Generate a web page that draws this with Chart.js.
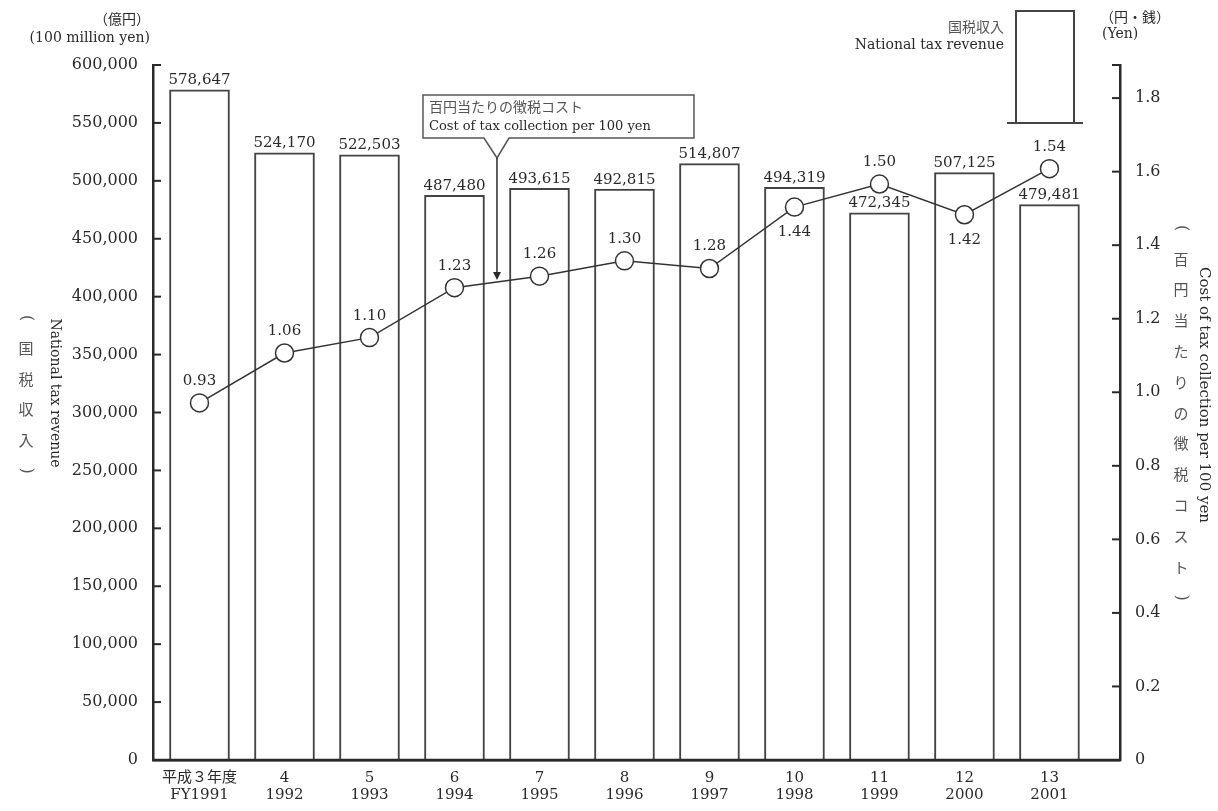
<!DOCTYPE html>
<html>
<head>
<meta charset="utf-8">
<script src="https://cdn.jsdelivr.net/npm/chart.js@4.4.1/dist/chart.umd.min.js"></script>
<style>
  html, body { margin: 0; padding: 0; background: #fff; }
  #wrap { width: 1218px; height: 811px; position: relative; }
</style>
</head>
<body>
<div id="wrap"><canvas id="chart"></canvas></div>
<script>
// fiscal years (two lines each)
const yearLabels = [
    ['平成３年度', 'FY1991'], ['4', '1992'], ['5', '1993'], ['6', '1994'],
    ['7', '1995'], ['8', '1996'], ['9', '1997'], ['10', '1998'],
    ['11', '1999'], ['12', '2000'], ['13', '2001']
];

// national tax revenue (100 million yen)
const taxRevenue = [578647, 524170, 522503, 487480, 493615, 492815, 514807, 494319, 472345, 507125, 479481];

// cost of tax collection per 100 yen (yen)
const costPer100 = [0.93, 1.06, 1.10, 1.23, 1.26, 1.30, 1.28, 1.44, 1.50, 1.42, 1.54];

// axis ticks
const revenueTicks = [0, 50000, 100000, 150000, 200000, 250000, 300000, 350000, 400000, 450000, 500000, 550000, 600000];
const costTicks = [0, 0.2, 0.4, 0.6, 0.8, 1.0, 1.2, 1.4, 1.6, 1.8];

// texts
const leftUnit = ['（億円）', '(100 million yen)'];
const rightUnit = ['（円・銭）', '(Yen)'];
const leftTitleJa = ['国', '税', '収', '入'];
const leftTitleEn = 'National tax revenue';
const rightTitleJa = ['百', '円', '当', 'た', 'り', 'の', '徴', '税', 'コ', 'ス', 'ト'];
const rightTitleEn = 'Cost of tax collection per 100 yen';
const legendText = ['国税収入', 'National tax revenue'];
const calloutText = ['百円当たりの徴税コスト', 'Cost of tax collection per 100 yen'];

const FONT = "'DejaVu Serif', 'Noto Sans CJK JP', serif";
const JA_FONT = "'Noto Sans CJK JP', sans-serif";
const INK = '#2a2a2a';
const SOFT = '#555';

// line labels that sit under the point
const labelBelow = [7, 9];

function drawLine(ctx, x1, y1, x2, y2) {
    ctx.beginPath();
    ctx.moveTo(x1, y1);
    ctx.lineTo(x2, y2);
    ctx.stroke();
}

// vertical japanese title with rotated brackets
function drawVerticalJa(ctx, chars, x, top, step) {
    ctx.font = '15px ' + JA_FONT;
    ctx.fillStyle = SOFT;
    ctx.textAlign = 'center';
    ctx.textBaseline = 'middle';
    const all = ['(', ...chars, ')'];
    all.forEach((c, i) => {
        const cy = top + i * step;
        if (c === '(' || c === ')') {
            ctx.save();
            ctx.translate(x, cy);
            ctx.rotate(Math.PI / 2);
            ctx.font = '16px ' + FONT;
            ctx.fillText(c, 0, 0);
            ctx.restore();
        } else {
            ctx.fillText(c, x, cy);
        }
    });
}

function drawRotated(ctx, text, x, cy, size) {
    ctx.save();
    ctx.translate(x, cy);
    ctx.rotate(Math.PI / 2);
    ctx.font = size + 'px ' + FONT;
    ctx.fillStyle = INK;
    ctx.textAlign = 'center';
    ctx.textBaseline = 'middle';
    ctx.fillText(text, 0, 0);
    ctx.restore();
}

const extrasPlugin = {
    id: 'extras',
    afterDatasetsDraw(chart) {
        const ctx = chart.ctx;
        const area = chart.chartArea;
        ctx.save();

        // bottom axis line back over the bar feet
        ctx.strokeStyle = INK;
        ctx.lineWidth = 2.5;
        drawLine(ctx, area.left, area.bottom, area.right, area.bottom);

        ctx.fillStyle = INK;
        ctx.textAlign = 'center';

        // bar values
        ctx.font = '15px ' + FONT;
        ctx.textBaseline = 'bottom';
        chart.getDatasetMeta(1).data.forEach((bar, i) => {
            ctx.fillText(taxRevenue[i].toLocaleString('en-US'), bar.x, bar.y - 2);
        });

        // line values
        ctx.textBaseline = 'middle';
        chart.getDatasetMeta(0).data.forEach((pt, i) => {
            const dy = labelBelow.includes(i) ? 25 : -22;
            ctx.fillText(costPer100[i].toFixed(2), pt.x, pt.y + dy);
        });
        ctx.restore();
    },
    afterDraw(chart) {
        const ctx = chart.ctx;
        const area = chart.chartArea;
        const xs = chart.scales.x, ys = chart.scales.y, ys2 = chart.scales.y2, yl = chart.scales.yLine;
        ctx.save();

        // inward tick marks
        ctx.strokeStyle = INK;
        ctx.lineWidth = 2;
        revenueTicks.forEach(v => {
            const py = ys.getPixelForValue(v);
            drawLine(ctx, area.left, py, area.left + 8, py);
        });
        costTicks.concat([ys2.max]).forEach(v => {
            const py = ys2.getPixelForValue(v);
            drawLine(ctx, area.right, py, area.right - 8, py);
        });

        // unit labels
        ctx.fillStyle = INK;
        ctx.font = '14px ' + FONT;
        ctx.textAlign = 'right';
        ctx.textBaseline = 'middle';
        ctx.fillText(leftUnit[0], 150, 20);
        ctx.fillText(leftUnit[1], 150, 38);
        ctx.textAlign = 'left';
        ctx.fillText(rightUnit[0], 1100, 18);
        ctx.fillText(rightUnit[1], 1102, 34);

        // axis titles
        drawVerticalJa(ctx, leftTitleJa, 26, 318, 30.5);
        drawRotated(ctx, leftTitleEn, 55, 393, 14);
        drawVerticalJa(ctx, rightTitleJa, 1181, 228, 30.8);
        drawRotated(ctx, rightTitleEn, 1204, 395, 15);

        // legend sample
        ctx.strokeStyle = '#444';
        ctx.lineWidth = 2;
        ctx.fillStyle = '#fff';
        ctx.fillRect(1016, 11, 58, 112);
        ctx.strokeRect(1016, 11, 58, 112);
        drawLine(ctx, 1007, 123, 1083, 123);
        ctx.textAlign = 'right';
        ctx.font = '14px ' + JA_FONT;
        ctx.fillStyle = SOFT;
        ctx.fillText(legendText[0], 1004, 27);
        ctx.font = '14px ' + FONT;
        ctx.fillStyle = INK;
        ctx.fillText(legendText[1], 1004, 45);

        // callout with arrow between 1994 and 1995
        const ax = xs.getPixelForValue(3.5);
        const tipY = yl.getPixelForValue((costPer100[3] + costPer100[4]) / 2);
        const bl = ax - 74, br = ax + 197, bt = 95, bb = 138, apex = 158;
        ctx.beginPath();
        ctx.moveTo(bl, bt);
        ctx.lineTo(br, bt);
        ctx.lineTo(br, bb);
        ctx.lineTo(ax + 12, bb);
        ctx.lineTo(ax, apex);
        ctx.lineTo(ax - 13, bb);
        ctx.lineTo(bl, bb);
        ctx.closePath();
        ctx.fillStyle = '#fff';
        ctx.fill();
        ctx.strokeStyle = SOFT;
        ctx.lineWidth = 1.5;
        ctx.stroke();
        ctx.strokeStyle = INK;
        drawLine(ctx, ax, apex, ax, tipY - 8);
        ctx.beginPath();
        ctx.moveTo(ax - 4, tipY - 10);
        ctx.lineTo(ax + 4, tipY - 10);
        ctx.lineTo(ax, tipY - 2);
        ctx.closePath();
        ctx.fillStyle = INK;
        ctx.fill();

        ctx.textAlign = 'left';
        ctx.font = '14px ' + JA_FONT;
        ctx.fillStyle = SOFT;
        ctx.fillText(calloutText[0], bl + 6, 107);
        ctx.font = '13px ' + FONT;
        ctx.fillStyle = INK;
        ctx.fillText(calloutText[1], bl + 6, 127);

        ctx.restore();
    }
};

const ctx = document.getElementById('chart');
new Chart(ctx, {
    type: 'bar',
    data: {
        datasets: [{
            type: 'line',
            label: calloutText[1],
            data: costPer100.map((v, i) => ({ x: i, y: v })),
            // the source plots the line with 1.8 near the top of the frame
            yAxisID: 'yLine',
            borderColor: '#333',
            borderWidth: 1.5,
            pointRadius: 9,
            pointBorderWidth: 1.5,
            pointBackgroundColor: '#fff',
            pointBorderColor: '#333',
            order: 0
        }, {
            type: 'bar',
            label: legendText[1],
            data: taxRevenue.map((v, i) => ({ x: i, y: v })),
            yAxisID: 'y',
            backgroundColor: '#fff',
            borderColor: '#444',
            borderWidth: 2,
            barThickness: 60,
            order: 1
        }]
    },
    options: {
        responsive: true,
        maintainAspectRatio: false,
        animation: false,
        font: { family: FONT },
        layout: { padding: { top: 65, left: 0, right: 0, bottom: 0 } },
        plugins: {
            legend: { display: false },
            tooltip: { enabled: false }
        },
        scales: {
            x: {
                type: 'linear',
                offset: false,
                min: -0.547,
                max: 10.83,
                afterBuildTicks: s => { s.ticks = yearLabels.map((_, i) => ({ value: i })); },
                ticks: {
                    callback: v => yearLabels[v],
                    autoSkip: false,
                    maxRotation: 0,
                    padding: 10,
                    color: INK,
                    font: { family: FONT, size: 15, lineHeight: 1.1 }
                },
                grid: { display: false, drawTicks: false },
                border: { display: true, color: INK, width: 2.5 },
                afterFit: s => { s.height = 51; }
            },
            y: {
                position: 'left',
                min: 0,
                max: 600000,
                afterBuildTicks: s => { s.ticks = revenueTicks.map(v => ({ value: v })); },
                ticks: {
                    callback: v => v.toLocaleString('en-US'),
                    padding: 15,
                    color: INK,
                    font: { family: FONT, size: 16 }
                },
                grid: { display: false, drawTicks: false },
                border: { display: true, color: INK, width: 2.5 },
                afterFit: s => { s.width = 153; }
            },
            y2: {
                position: 'right',
                min: 0,
                max: 1.89,
                afterBuildTicks: s => { s.ticks = costTicks.map(v => ({ value: v })); },
                ticks: {
                    callback: v => v === 0 ? '0' : v.toFixed(1),
                    padding: 15,
                    color: INK,
                    font: { family: FONT, size: 16 }
                },
                grid: { display: false, drawTicks: false },
                border: { display: true, color: INK, width: 2.5 },
                afterFit: s => { s.width = 98; }
            },
            yLine: {
                position: 'right',
                display: false,
                min: 0,
                max: 1.81
            }
        }
    },
    plugins: [extrasPlugin]
});
</script>
</body>
</html>
